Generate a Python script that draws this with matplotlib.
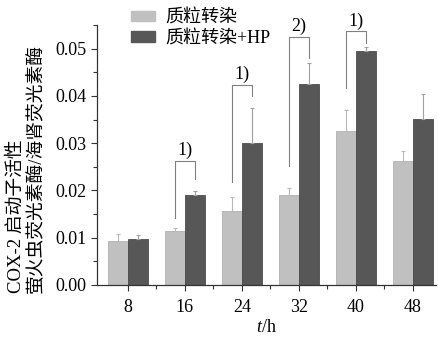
import numpy as np
import matplotlib
matplotlib.use('Agg')
from matplotlib import pyplot as plt
from matplotlib.patches import Patch
from matplotlib.ticker import MultipleLocator

plt.rcParams['font.family'] = ['Liberation Serif', 'Noto Sans CJK SC']
plt.rcParams['mathtext.fontset'] = 'custom'
plt.rcParams['mathtext.rm'] = 'Liberation Serif'
plt.rcParams['mathtext.it'] = 'Liberation Serif:italic'

# data
hours = ['8', '16', '24', '32', '40', '48']
plasmid = [0.0092, 0.0114, 0.0157, 0.0191, 0.0326, 0.0262]
plasmid_err = [0.0016, 0.0006, 0.0030, 0.0014, 0.0045, 0.0021]
plasmid_hp = [0.0097, 0.0190, 0.0301, 0.0426, 0.0494, 0.0351]
plasmid_hp_err = [0.0008, 0.0008, 0.0073, 0.0044, 0.0009, 0.0054]
labels = ['质粒转染', '质粒转染+HP']

# significance brackets: group index, left foot, top, right foot, label
sig_group = [1, 2, 3, 4]
sig_left = [0.0141, 0.0218, 0.0252, 0.0416]
sig_top = [0.0263, 0.0424, 0.0525, 0.0537]
sig_right = [0.0224, 0.0400, 0.0481, 0.0512]
sig_text = ['1)', '1)', '2)', '1)']

light = '#c0c0c0'
dark = '#575757'

fig = plt.figure(figsize=(4.38, 3.38), dpi=100)
ax = fig.add_axes([0.221, 0.157, 0.774, 0.769])

x = np.arange(len(hours))
w = 0.35
ax.bar(x - w/2, plasmid, w, color=light, edgecolor='#a8a8a8', linewidth=0.5,
       yerr=[np.zeros(len(x)), plasmid_err], ecolor='#b8b8b8',
       error_kw=dict(capsize=1.5, elinewidth=0.8, capthick=0.8))
ax.bar(x + w/2, plasmid_hp, w, color=dark, edgecolor='#3a3a3a', linewidth=0.5,
       yerr=[np.zeros(len(x)), plasmid_hp_err], ecolor='#a0a0a0',
       error_kw=dict(capsize=1.5, elinewidth=0.8, capthick=0.8))

for g, yl, yt, yr, s in zip(sig_group, sig_left, sig_top, sig_right, sig_text):
    xl, xr = g - w/2, g + w/2
    ax.plot([xl, xl, xr, xr], [yl, yt, yt, yr], color='#808080', lw=0.8)
    ax.text((xl + xr)/2, yt + 0.0003, s, ha='center', va='bottom', fontsize=13)

ax.set_xlim(-0.54, 5.4)
ax.set_ylim(0, 0.055)
ax.set_xticks(x)
ax.set_xticklabels(hours)
ax.set_xticks(x[:-1] + 0.5, minor=True)
ax.set_yticks(np.arange(0, 0.051, 0.01))
ax.yaxis.set_minor_locator(MultipleLocator(0.005))
ax.yaxis.set_major_formatter(plt.FormatStrFormatter('%.2f'))
ax.tick_params(axis='both', which='major', labelsize=13, length=4, width=0.8,
               colors='#333333', labelcolor='black')
ax.tick_params(axis='x', which='major', pad=6)
ax.tick_params(axis='both', which='minor', length=3, width=0.8, colors='#333333')
for sp in ['top', 'right']:
    ax.spines[sp].set_visible(False)
for sp in ['left', 'bottom']:
    ax.spines[sp].set_linewidth(0.9)
    ax.spines[sp].set_color('#333333')

ax.set_xlabel('$t$/h', fontsize=13, labelpad=2)
ax.set_ylabel('COX-2 启动子活性\n萤火虫荧光素酶/海肾荧光素酶', fontsize=13.5,
              multialignment='left', linespacing=1.2)
ax.yaxis.set_label_coords(-0.152, -0.03, transform=ax.transAxes)
ax.yaxis.label.set_va('bottom')
ax.yaxis.label.set_ha('left')

handles = [Patch(color=light), Patch(color=dark)]
fig.legend(handles, labels, loc='upper left', bbox_to_anchor=(0.271, 1.01),
           frameon=False, fontsize=13, handlelength=1.3, handleheight=0.55,
           handletextpad=0.6, labelspacing=0.2, borderpad=0.2)

fig.savefig('out.png', dpi=100)
